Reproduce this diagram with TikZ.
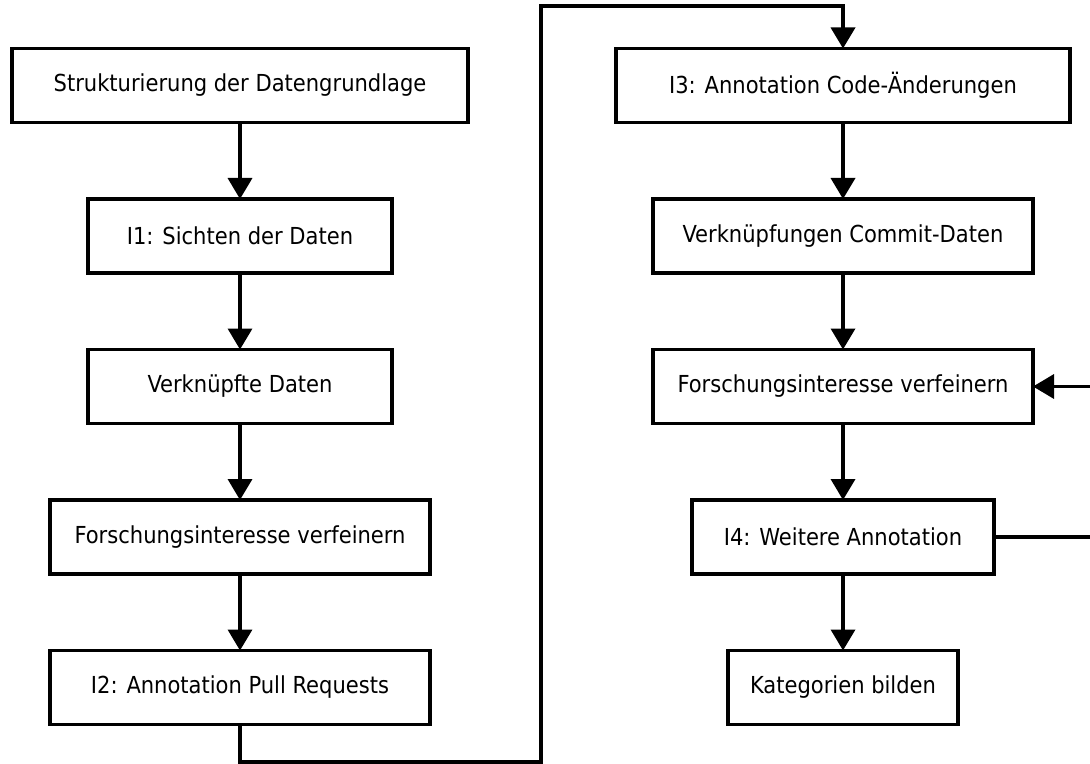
\documentclass[tikz,border=0pt]{standalone}
\usepackage{fontspec}
\setmainfont{DejaVu Sans Condensed}
\usetikzlibrary{positioning,arrows.meta}

\begin{document}
\begin{tikzpicture}[x=0.5pt,y=-0.5pt,node distance=38.25pt,
  box/.style={draw,line width=1.9pt,outer sep=0pt,minimum height=37pt,inner sep=0pt,font=\fontsize{11.7}{14}\selectfont},
  flow/.style={line width=1.8pt,-{Triangle[width=12pt,length=10.5pt]}}]
\useasboundingbox (0,0) rectangle (1090,764);
% linke Spalte
\node [box,minimum width=228pt] (strukt) at (240,85.5) {Strukturierung der Datengrundlage};
\node [box,minimum width=152pt,below=of strukt] (sichten) {I1: Sichten der Daten};
\node [box,minimum width=152pt,below=of sichten] (verkn) {Verknüpfte Daten};
\node [box,minimum width=190pt,below=of verkn] (interesse) {Forschungsinteresse verfeinern};
\node [box,minimum width=190pt,below=of interesse] (pullreq) {I2: Annotation Pull Requests};
% rechte Spalte
\node [box,minimum width=227pt] (code) at (843,85.5) {I3: Annotation Code-Änderungen};
\node [box,minimum width=190pt,below=of code] (commit) {Verknüpfungen Commit-Daten};
\node [box,minimum width=190pt,below=of commit] (interesse2) {Forschungsinteresse verfeinern};
\node [box,minimum width=151pt,below=of interesse2] (weitere) {I4: Weitere Annotation};
\node [box,minimum width=115pt,below=of weitere] (kategorien) {Kategorien bilden};

\draw [flow] (strukt) -- (sichten);
\draw [flow] (sichten) -- (verkn);
\draw [flow] (verkn) -- (interesse);
\draw [flow] (interesse) -- (pullreq);
\coordinate (unten) at (pullreq.south |- 0,762);
\coordinate (oben) at (541,6);
\draw [flow] (pullreq.south) -- (unten) -| (oben) -| (code.north);
\draw [flow] (code) -- (commit);
\draw [flow] (commit) -- (interesse2);
\draw [flow] (interesse2) -- (weitere);
\draw [flow] (weitere) -- (kategorien);
\coordinate (rechts) at (1100,0);
\draw [flow] (weitere.east) -- (weitere.east -| rechts) |- (interesse2.east);
\end{tikzpicture}
\end{document}
